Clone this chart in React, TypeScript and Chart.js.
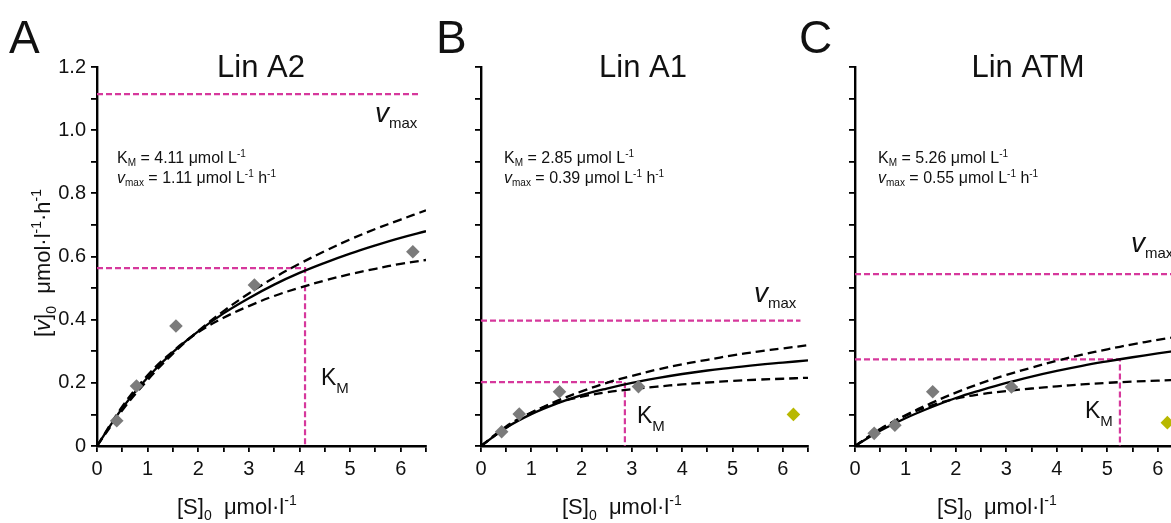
import React, { useEffect, useRef } from 'react';
import { Chart, registerables } from 'chart.js';

Chart.register(...registerables);

// ---------- data ----------
const S_GRID = [0, 0.5, 1, 1.5, 2, 2.5, 3, 3.5, 4, 4.5, 5, 5.5, 6, 6.5];

// Panel A – Lin A2
const A_FIT = [0, 0.120, 0.217, 0.297, 0.363, 0.420, 0.468, 0.511, 0.548, 0.580, 0.609, 0.635, 0.659, 0.680];
const A_UPPER = [0, 0.113, 0.209, 0.292, 0.364, 0.427, 0.483, 0.533, 0.577, 0.617, 0.654, 0.687, 0.717, 0.746];
const A_LOWER = [0, 0.125, 0.224, 0.300, 0.360, 0.406, 0.443, 0.475, 0.501, 0.524, 0.544, 0.561, 0.577, 0.589];
const A_OBS_S = [0.39, 0.78, 1.56, 3.11, 6.24];
const A_OBS_V = [0.08, 0.19, 0.38, 0.51, 0.615];
const A_OUT_S: number[] = [];
const A_OUT_V: number[] = [];
const A_KM = 4.11;
const A_VMAX = 1.114;
const A_HALF = 0.563;

// Panel B – Lin A1
const B_FIT = [0, 0.058, 0.101, 0.134, 0.161, 0.182, 0.200, 0.215, 0.228, 0.239, 0.248, 0.257, 0.264, 0.271];
const B_UPPER = [0, 0.058, 0.105, 0.142, 0.173, 0.200, 0.222, 0.242, 0.259, 0.273, 0.287, 0.299, 0.309, 0.319];
const B_LOWER = [0, 0.062, 0.106, 0.136, 0.156, 0.170, 0.180, 0.188, 0.195, 0.201, 0.206, 0.210, 0.213, 0.216];
const B_OBS_S = [0.41, 0.76, 1.56, 3.13];
const B_OBS_V = [0.045, 0.101, 0.172, 0.188];
const B_OUT_S = [6.21];
const B_OUT_V = [0.10];
const B_KM = 2.86;
const B_VMAX = 0.397;
const B_HALF = 0.202;

// Panel C – Lin ATM
const C_FIT = [0, 0.048, 0.088, 0.122, 0.152, 0.177, 0.200, 0.220, 0.238, 0.254, 0.268, 0.281, 0.293, 0.304];
const C_UPPER = [0, 0.052, 0.097, 0.135, 0.169, 0.199, 0.225, 0.248, 0.270, 0.289, 0.306, 0.322, 0.336, 0.349];
const C_LOWER = [0, 0.054, 0.096, 0.127, 0.150, 0.164, 0.174, 0.182, 0.189, 0.195, 0.200, 0.204, 0.207, 0.210];
const C_OBS_S = [0.38, 0.79, 1.54, 3.10];
const C_OBS_V = [0.040, 0.066, 0.172, 0.187];
const C_OUT_S = [6.19];
const C_OUT_V = [0.074];
const C_KM = 5.25;
const C_VMAX = 0.544;
const C_HALF = 0.274;

const VMAX_LINE_END = 6.35;
const X_MAX = 6.5;
const Y_MAX = 1.2;

// ---------- style / layout ----------
const FONT = '"Liberation Sans", Arial, Helvetica, sans-serif';
const MAGENTA = '#d6389c';
const GRAY = '#7b7b7b';
const OLIVE = '#b8b800';
const INK = '#111111';
const H = 523;
const PLOT_TOP = 67;
const PLOT_BOTTOM = 446;

interface Seg { t: string; size: number; italic?: boolean; dy?: number }

function segWidth(ctx: CanvasRenderingContext2D, segs: Seg[]) {
  let w = 0;
  for (const s of segs) {
    ctx.font = `${s.italic ? 'italic ' : ''}${s.size}px ${FONT}`;
    w += ctx.measureText(s.t).width;
  }
  return w;
}

function drawSegs(ctx: CanvasRenderingContext2D, x: number, y: number, segs: Seg[]) {
  let cx = x;
  for (const s of segs) {
    ctx.font = `${s.italic ? 'italic ' : ''}${s.size}px ${FONT}`;
    ctx.fillText(s.t, cx, y + (s.dy || 0));
    cx += ctx.measureText(s.t).width;
  }
}

const PANELS = [
  {
    key: 'A', letter: 'A', title: 'Lin A2', kmText: '4.11', vmaxText: '1.11',
    fit: A_FIT, upper: A_UPPER, lower: A_LOWER, obsS: A_OBS_S, obsV: A_OBS_V, outS: A_OUT_S, outV: A_OUT_V,
    km: A_KM, vmax: A_VMAX, half: A_HALF,
    canvasLeft: 0, canvasWidth: 440, plotLeft: 97, plotRight: 426,
    letterX: 9, titleX: 261, noteX: 117, vLabel: [375, 122], kLabel: [321, 385], xTitleX: 177, yLabels: true,
  },
  {
    key: 'B', letter: 'B', title: 'Lin A1', kmText: '2.85', vmaxText: '0.39',
    fit: B_FIT, upper: B_UPPER, lower: B_LOWER, obsS: B_OBS_S, obsV: B_OBS_V, outS: B_OUT_S, outV: B_OUT_V,
    km: B_KM, vmax: B_VMAX, half: B_HALF,
    canvasLeft: 430, canvasWidth: 400, plotLeft: 481, plotRight: 808,
    letterX: 436, titleX: 643, noteX: 504, vLabel: [754, 302], kLabel: [637, 423], xTitleX: 562, yLabels: false,
  },
  {
    key: 'C', letter: 'C', title: 'Lin ATM', kmText: '5.26', vmaxText: '0.55',
    fit: C_FIT, upper: C_UPPER, lower: C_LOWER, obsS: C_OBS_S, obsV: C_OBS_V, outS: C_OUT_S, outV: C_OUT_V,
    km: C_KM, vmax: C_VMAX, half: C_HALF,
    canvasLeft: 790, canvasWidth: 420, plotLeft: 855, plotRight: 1183,
    letterX: 799, titleX: 1028, noteX: 878, vLabel: [1131, 252], kLabel: [1085, 418], xTitleX: 937, yLabels: false,
  },
];

type PanelCfg = typeof PANELS[number];

function Panel({ p }: { p: PanelCfg }) {
  const ref = useRef<HTMLCanvasElement>(null);

  useEffect(() => {
    const canvas = ref.current!;
    const yWidth = p.plotLeft - p.canvasLeft;
    const padRight = p.canvasLeft + p.canvasWidth - p.plotRight;
    const pts = (ys: number[]) => S_GRID.map((s, i) => ({ x: s, y: ys[i] }));
    const curve = (ys: number[], dash: number[]) => ({
      data: pts(ys), showLine: true, borderColor: '#000', borderWidth: 2.3, borderDash: dash,
      pointRadius: 0, pointHoverRadius: 0, tension: 0.4, order: 1,
    });
    const magenta = (data: { x: number; y: number }[]) => ({
      data, showLine: true, borderColor: MAGENTA, borderWidth: 2.2, borderDash: [6, 3],
      pointRadius: 0, pointHoverRadius: 0, tension: 0, order: 2,
    });

    const textPlugin = {
      id: 'panelText' + p.key,
      afterDraw(chart: Chart) {
        const ctx = chart.ctx;
        const o = p.canvasLeft;
        ctx.save();
        ctx.fillStyle = INK;
        ctx.textBaseline = 'alphabetic';
        ctx.textAlign = 'left';
        // panel letter
        drawSegs(ctx, p.letterX - o, 53, [{ t: p.letter, size: 46 }]);
        // title
        const tSegs = [{ t: p.title, size: 31 }];
        drawSegs(ctx, p.titleX - o - segWidth(ctx, tSegs) / 2, 77, tSegs);
        // parameter note
        drawSegs(ctx, p.noteX - o, 163, [
          { t: 'K', size: 16 }, { t: 'M', size: 10, dy: 3 },
          { t: ` = ${p.kmText} μmol L`, size: 16 }, { t: '-1', size: 10, dy: -6 },
        ]);
        drawSegs(ctx, p.noteX - o, 183, [
          { t: 'v', size: 16, italic: true }, { t: 'max', size: 10, dy: 3 },
          { t: ` = ${p.vmaxText} μmol L`, size: 16 }, { t: '-1', size: 10, dy: -6 },
          { t: ' h', size: 16 }, { t: '-1', size: 10, dy: -6 },
        ]);
        // vmax label
        drawSegs(ctx, p.vLabel[0] - o, p.vLabel[1], [
          { t: 'v', size: 28, italic: true }, { t: 'max', size: 15, dy: 6 },
        ]);
        // KM label
        drawSegs(ctx, p.kLabel[0] - o, p.kLabel[1], [
          { t: 'K', size: 23 }, { t: 'M', size: 15, dy: 8 },
        ]);
        // x title
        drawSegs(ctx, p.xTitleX - o, 514, [
          { t: '[S]', size: 22 }, { t: '0', size: 14, dy: 6 },
          { t: '  μmol·l', size: 22 }, { t: '-1', size: 14, dy: -9 },
        ]);
        // y title
        if (p.yLabels) {
          const ySegs: Seg[] = [
            { t: '[', size: 22 }, { t: 'v', size: 22, italic: true }, { t: ']', size: 22 },
            { t: '0', size: 14, dy: 6 }, { t: '  μmol·l', size: 22 }, { t: '-1', size: 14, dy: -9 },
            { t: '·h', size: 22 }, { t: '-1', size: 14, dy: -9 },
          ];
          const w = segWidth(ctx, ySegs);
          ctx.translate(50 - o, 263);
          ctx.rotate(-Math.PI / 2);
          drawSegs(ctx, -w / 2, 0, ySegs);
        }
        ctx.restore();
      },
    };

    const chart = new Chart(canvas, {
      type: 'scatter',
      data: {
        datasets: [
          {
            data: p.obsS.map((s, i) => ({ x: s, y: p.obsV[i] })),
            pointStyle: 'rectRot', pointRadius: 6.8, pointHoverRadius: 6.8,
            backgroundColor: GRAY, borderWidth: 0, order: 0,
          },
          {
            data: p.outS.map((s, i) => ({ x: s, y: p.outV[i] })),
            pointStyle: 'rectRot', pointRadius: 6.8, pointHoverRadius: 6.8,
            backgroundColor: OLIVE, borderWidth: 0, order: 0,
          },
          curve(p.fit, []),
          curve(p.upper, [9, 5]),
          curve(p.lower, [9, 5]),
          magenta([{ x: 0, y: p.vmax }, { x: VMAX_LINE_END, y: p.vmax }]),
          magenta([{ x: 0, y: p.half }, { x: p.km, y: p.half }, { x: p.km, y: 0 }]),
        ] as any,
      },
      options: {
        animation: false,
        responsive: false,
        events: [],
        layout: { padding: { left: 0, right: padRight, top: PLOT_TOP, bottom: 0 } },
        plugins: { legend: { display: false }, tooltip: { enabled: false }, title: { display: false } },
        scales: {
          x: {
            type: 'linear', min: 0, max: X_MAX,
            afterFit: (s: any) => { s.height = H - PLOT_BOTTOM; },
            border: { display: true, color: '#000', width: 2.4 },
            grid: { display: true, drawOnChartArea: false, drawTicks: true, tickLength: 6, color: '#000', lineWidth: 1.8 },
            ticks: {
              stepSize: 0.5, autoSkip: false, maxRotation: 0, padding: 5,
              color: INK, font: { family: FONT, size: 20 },
              callback: (v: any) => (Math.abs(v - Math.round(v)) < 1e-6 ? String(Math.round(v)) : ''),
            },
          },
          y: {
            type: 'linear', min: 0, max: Y_MAX,
            afterFit: (s: any) => { s.width = yWidth; },
            border: { display: true, color: '#000', width: 2.4 },
            grid: { display: true, drawOnChartArea: false, drawTicks: true, tickLength: 6, color: '#000', lineWidth: 1.8 },
            ticks: {
              stepSize: 0.1, autoSkip: false, padding: 5,
              color: INK, font: { family: FONT, size: 20 },
              callback: (v: any) => {
                if (!p.yLabels) return '';
                const k = Math.round(v * 10);
                if (k % 2 !== 0) return '';
                return k === 0 ? '0' : (k / 10).toFixed(1);
              },
            },
          },
        },
      } as any,
      plugins: [textPlugin],
    });
    return () => chart.destroy();
  }, [p]);

  return (
    <canvas
      ref={ref}
      width={p.canvasWidth}
      height={H}
      style={{ position: 'absolute', left: p.canvasLeft, top: 0, width: p.canvasWidth, height: H }}
    />
  );
}

export default function App() {
  return (
    <div style={{ position: 'fixed', left: 0, top: 0, width: 1171, height: 523, overflow: 'hidden', background: '#fff' }}>
      {PANELS.map((p) => (
        <Panel key={p.key} p={p} />
      ))}
    </div>
  );
}
